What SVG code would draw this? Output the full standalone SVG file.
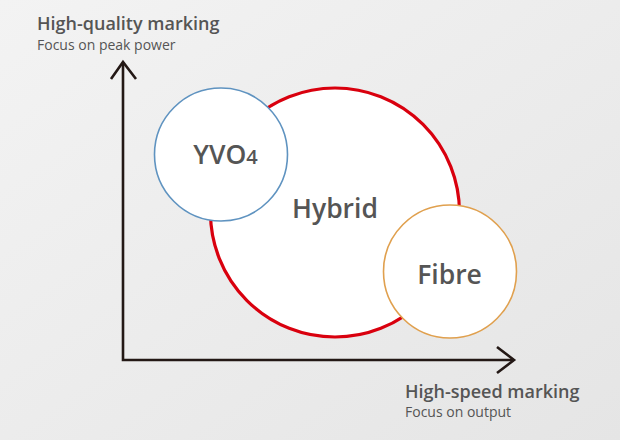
<svg xmlns="http://www.w3.org/2000/svg" width="620" height="440" viewBox="0 0 620 440">
<defs>
<linearGradient id="bg" x1="0" y1="0" x2="1" y2="1">
<stop offset="0" stop-color="#f3f3f3"/>
<stop offset="1" stop-color="#e5e5e5"/>
</linearGradient>
</defs>
<style>
.t{font-family:"Open Sans","Noto Sans","Liberation Sans",sans-serif;fill:#555555}
.h{font-size:18px;font-weight:600}
.s{font-size:14px;font-weight:400}
.n{font-size:26.5px;font-weight:600;text-anchor:middle}
.ax{fill:none;stroke:#231815;stroke-width:2.6;stroke-linecap:butt;stroke-linejoin:miter}
.c{fill:#ffffff}
</style>
<rect width="620" height="440" fill="url(#bg)"/>
<g id="axes" class="connectors">
<path class="ax" d="M123 62 V360 H514"/>
<path class="ax" d="M111 79 L123 62 L136 79"/>
<path class="ax" d="M497 347 L514 360 L497 373"/>
</g>
<g id="hybrid">
<circle class="c" cx="335" cy="212.5" r="124.5" stroke="#d9000e" stroke-width="3.2"/>
<text class="t n" x="335" y="218">Hybrid</text>
</g>
<g id="yvo4">
<circle class="c" cx="221" cy="154.5" r="66.5" stroke="#5f93c0" stroke-width="1.6"/>
<text class="t n" x="225.5" y="164">YVO<tspan font-size="20" font-weight="600">4</tspan></text>
</g>
<g id="fibre">
<circle class="c" cx="450" cy="271.5" r="66.5" stroke="#e0a04e" stroke-width="1.6"/>
<text class="t n" x="449.5" y="284">Fibre</text>
</g>
<g id="label-y">
<text class="t h" x="37" y="30">High-quality marking</text>
<text class="t s" x="37" y="50">Focus on peak power</text>
</g>
<g id="label-x">
<text class="t h" x="405" y="398">High-speed marking</text>
<text class="t s" x="405" y="417">Focus on output</text>
</g>
</svg>
